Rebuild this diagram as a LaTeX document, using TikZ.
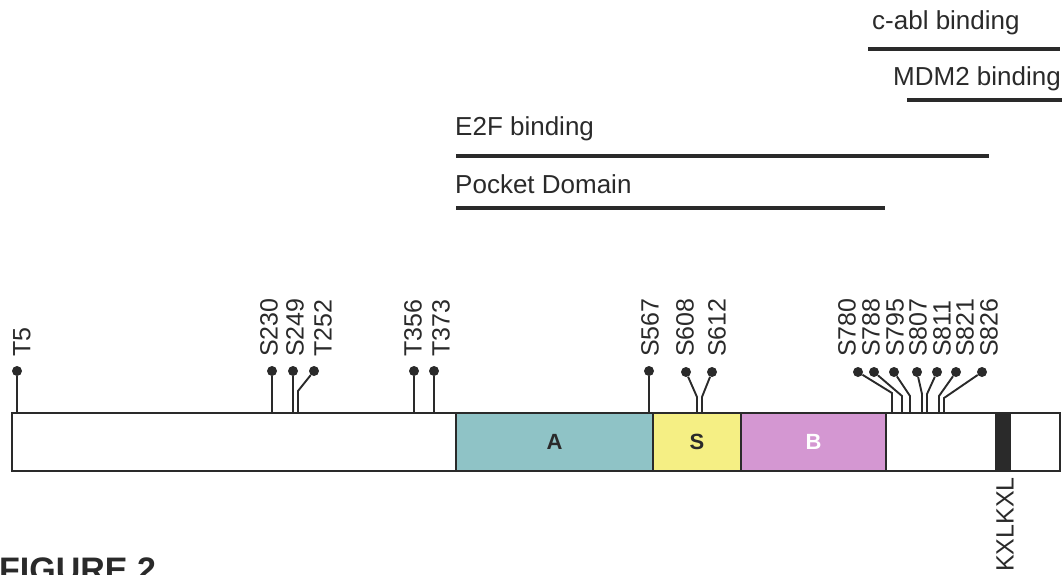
\documentclass[tikz,border=0pt]{standalone}
\usepackage{fontspec}
\setmainfont{Liberation Sans}
\definecolor{ink}{HTML}{2A2A2A}
\definecolor{segA}{HTML}{8FC3C6}
\definecolor{segS}{HTML}{F5EF84}
\definecolor{segB}{HTML}{D497D2}
\begin{document}
\begin{tikzpicture}[x=1pt,y=-1pt,
  lbl/.style={font=\fontsize{26}{30}\selectfont, text=ink, inner sep=0pt, anchor=base west},
  site/.style={font=\fontsize{25}{30}\selectfont, rotate=90, anchor=west, inner sep=0pt, text=ink},
  rng/.style={line width=4pt, ink},
  stem/.style={line width=1.9pt, ink},
  dot/.style={circle, fill=ink, inner sep=0pt, minimum size=10pt},
  seg/.style={draw=ink, line width=2pt, inner sep=0pt, outer sep=0pt, anchor=north west, minimum height=58pt, font=\bfseries\fontsize{22}{24}\selectfont}]
\useasboundingbox (0,0) rectangle (1064,574);

% ranges
\node[lbl] (cabl) at (872,29) {c-abl binding};
\coordinate (cablL) at (868,49); \coordinate (cablR) at (1060,49);
\draw[rng] (cablL) -- (cablR);
\node[lbl] (mdm) at (893,85) {MDM2 binding};
\coordinate (mdmL) at (907,100); \coordinate (mdmR) at (1062,100);
\draw[rng] (mdmL) -- (mdmR);
\node[lbl] (e2f) at (455,135) {E2F binding};
\coordinate (e2fL) at (456,156); \coordinate (e2fR) at (989,156);
\draw[rng] (e2fL) -- (e2fR);
\node[lbl] (pocket) at (455,193) {Pocket Domain};
\coordinate (pocL) at (456,208); \coordinate (pocR) at (885,208);
\draw[rng] (pocL) -- (pocR);

% protein bar
\node[seg, fill=white, minimum width=444pt] (N) at (12,413) {};
\node[seg, fill=segA, minimum width=197pt, text=ink] (A) at (456,413) {A};
\node[seg, fill=segS, minimum width=88pt, text=ink] (S) at (653,413) {S};
\node[seg, fill=segB, minimum width=145pt, text=white] (B) at (741,413) {B};
\node[seg, fill=white, minimum width=110pt] (C) at (886,413) {};
\node[seg, fill=ink, minimum width=14pt] (K) at (996,413) {};
\node[seg, fill=white, minimum width=50pt] (T) at (1010,413) {};

% straight sites
\foreach \n/\x/\lx in {T5/17/22, S230/272/269, S249/293/295, T356/414/413, T373/434/441, S567/649/650}{
  \node[dot] (d\n) at (\x,371) {};
  \node[site] (l\n) at (\lx,357) {\n};
}
\foreach \n in {T5, S230, S249, T356, T373}{
  \draw[stem] (d\n) -- (d\n |- N.north);
}
\draw[stem] (dS567) -- (dS567 |- A.north);

% bent sites (left)
\node[dot] (dT252) at (314,371) {};
\node[site] (lT252) at (323,357) {T252};
\coordinate (bT252) at (298,391);
\draw[stem] (dT252) -- (bT252) -- (bT252 |- N.north);

% S608, S612
\node[dot] (dS608) at (686,372) {};
\node[site] (lS608) at (685,357) {S608};
\coordinate (bS608) at (697,397);
\draw[stem] (dS608) -- (bS608) -- (bS608 |- S.north);
\node[dot] (dS612) at (712,372) {};
\node[site] (lS612) at (717,357) {S612};
\coordinate (bS612) at (702,397);
\draw[stem] (dS612) -- (bS612) -- (bS612 |- S.north);

% right cluster
\foreach \n/\dx/\bx/\by/\lx in {S780/858/892/393/847, S788/874/902/396/871, S795/894/910/396/895, S807/917/922/394/918, S811/937/927/394/942, S821/956/939/396/965, S826/982/944/398/989}{
  \node[dot] (d\n) at (\dx,372) {};
  \node[site] (l\n) at (\lx,357) {\n};
  \coordinate (b\n) at (\bx,\by);
  \draw[stem] (d\n) -- (b\n) -- (b\n |- C.north);
}

% motif
\node[site, anchor=east] (kxl) at (1005,477) {KXLKXL};

% caption
\node[font=\bfseries\fontsize{34}{40}\selectfont, text=ink, inner sep=0pt, anchor=base west] (fig) at (-1,581) {FIGURE 2};
\end{tikzpicture}
\end{document}
